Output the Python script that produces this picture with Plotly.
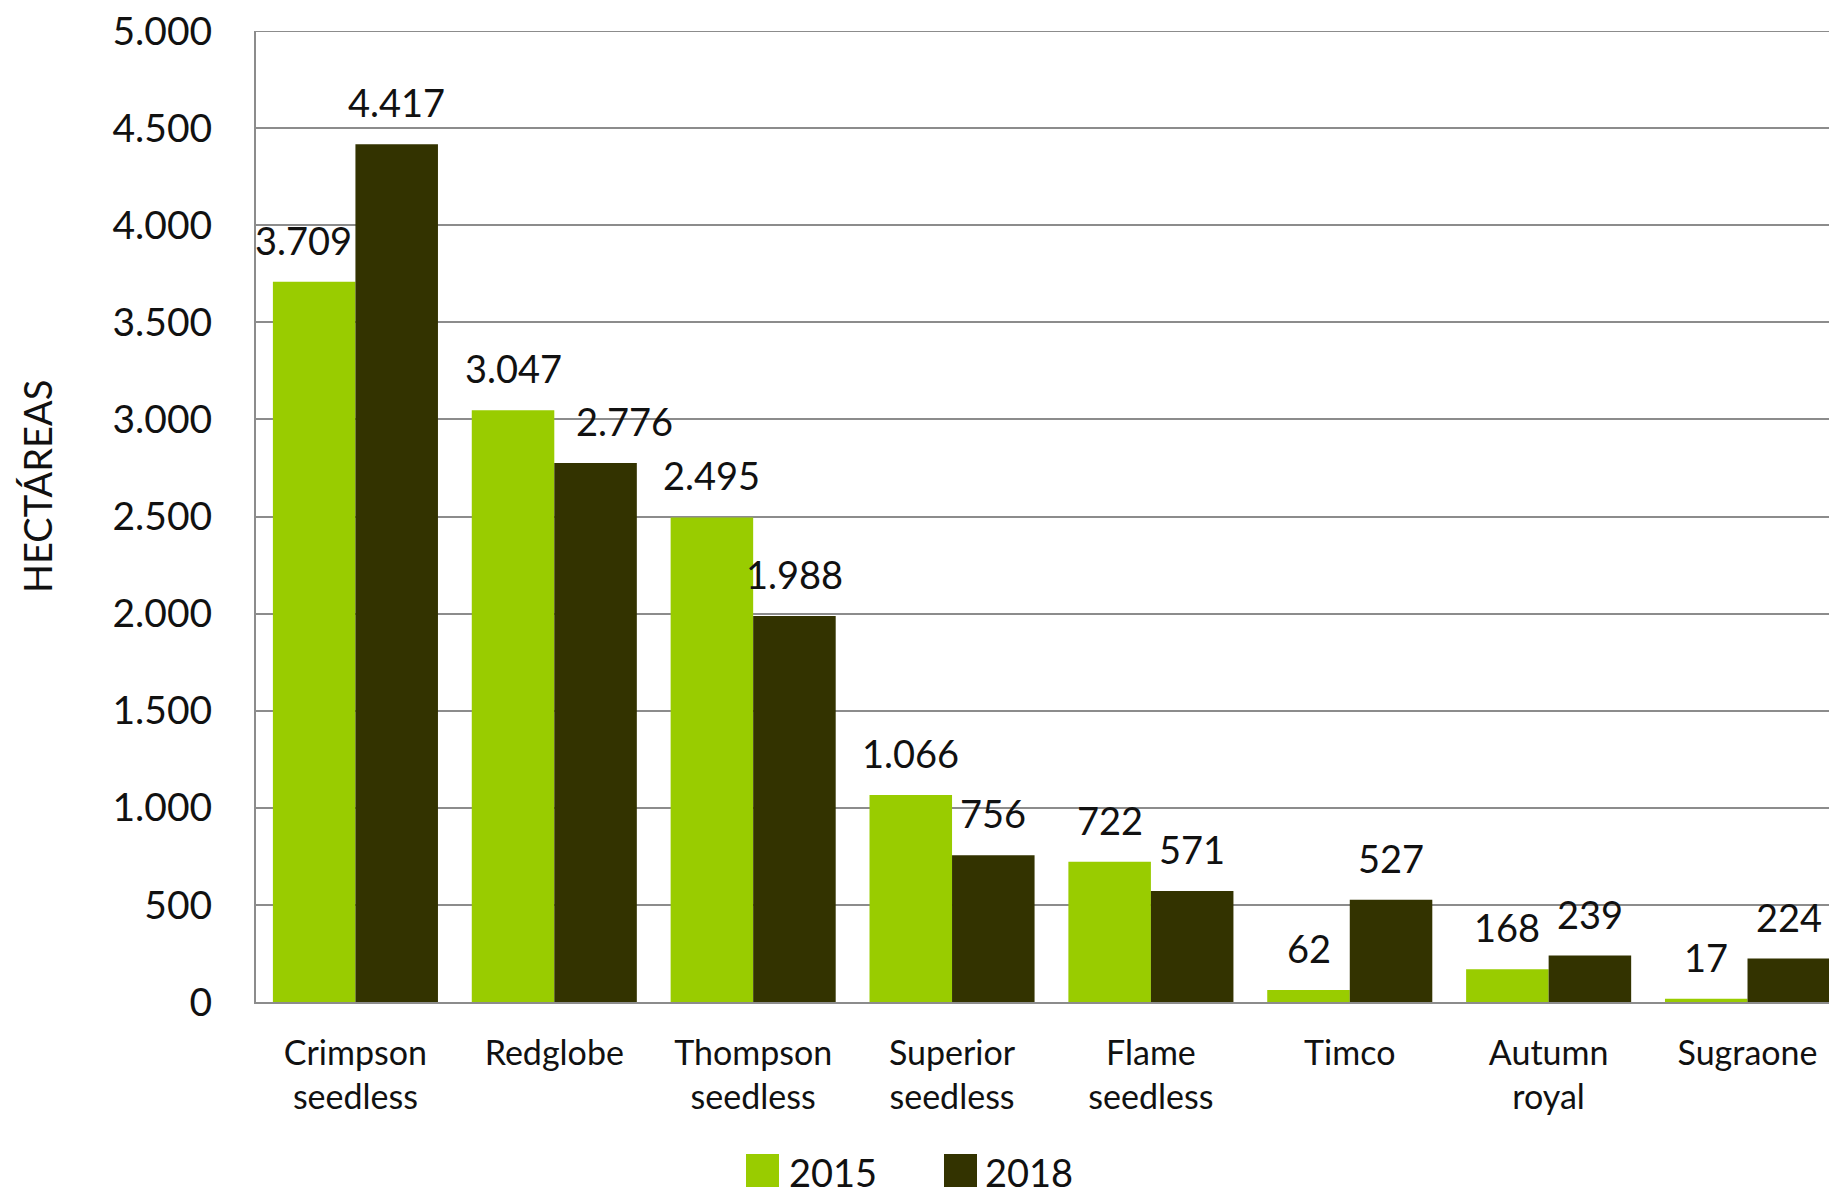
import plotly.graph_objects as go

categories = ["Crimpson<br>seedless", "Redglobe", "Thompson<br>seedless", "Superior<br>seedless",
              "Flame<br>seedless", "Timco", "Autumn<br>royal", "Sugraone"]
values_2015 = [3709, 3047, 2495, 1066, 722, 62, 168, 17]
values_2018 = [4417, 2776, 1988, 756, 571, 527, 239, 224]
series_names = ["2015", "2018"]
colors = ["#99CC00", "#333300"]
y_ticks = [0, 500, 1000, 1500, 2000, 2500, 3000, 3500, 4000, 4500, 5000]

# the page body adds an 8px offset; figure sized so it ends at the window edge
OFF = 8
W, H = 1837 - OFF, 1189 - OFF
PL, PT, PB = 256, 31, 1002          # plot area edges in page pixels
ML, MR, MT = PL - OFF, 0, PT - OFF
MB = H - (PB - OFF)
PW, PH = W - ML - MR, PB - PT
FONT = "Lato"
GRID = "#8c8c8c"
BARGAP = 0.17
half = (1 - BARGAP) / 4  # offset of each bar centre from category centre
# small horizontal nudges (px) of individual value labels, as in the original
label_nudge = {(0, 0): -11, (1, 1): 29}

x_idx = list(range(len(categories)))
fig = go.Figure()
for name, vals, col in zip(series_names, [values_2015, values_2018], colors):
    fig.add_trace(go.Bar(x=x_idx, y=vals, name=name, marker=dict(color=col, line=dict(width=0)),
                         showlegend=False))

# top gridline (plotly drops the gridline at the range end)
fig.add_shape(type="line", xref="paper", yref="y", x0=0, x1=1, y0=y_ticks[-1], y1=y_ticks[-1],
              line=dict(color=GRID, width=2), layer="below")

# data labels
for k, vals in enumerate([values_2015, values_2018]):
    sign = -1 if k == 0 else 1
    for i, v in enumerate(vals):
        fig.add_annotation(x=i + sign * half, y=v, text=f"{v:,}".replace(",", "."),
                           showarrow=False, yanchor="bottom", yshift=17,
                           xshift=label_nudge.get((i, k), 0),
                           font=dict(family=FONT, size=38, color="#111111"))


def px_to_paper(xpx, ypx):
    return (xpx - PL) / PW, (PB - ypx) / PH


# axis title
tx, ty = px_to_paper(37, 487)
fig.add_annotation(xref="paper", yref="paper", x=tx, y=ty, text="HECTÁREAS", textangle=-90,
                   showarrow=False, xanchor="center", yanchor="middle",
                   font=dict(family=FONT, size=38, color="#111111"))

# manual legend (sits at the very bottom edge, partly cut as in the original)
leg = [(746, 787), (944, 983)]
for (mx, lx), name, col in zip(leg, series_names, colors):
    x0, y0 = px_to_paper(mx, 1154)
    x1, y1 = px_to_paper(mx + 33, 1187)
    fig.add_shape(type="rect", xref="paper", yref="paper", x0=x0, x1=x1, y0=y1, y1=y0,
                  fillcolor=col, line=dict(width=0))
    txx, tyy = px_to_paper(lx, 1172)
    fig.add_annotation(xref="paper", yref="paper", x=txx, y=tyy, text=name, showarrow=False,
                       xanchor="left", yanchor="middle",
                       font=dict(family=FONT, size=38, color="#111111"))

fig.update_layout(
    width=W, height=H,
    margin=dict(l=ML, r=MR, t=MT, b=MB, pad=0, autoexpand=False),
    paper_bgcolor="white", plot_bgcolor="white",
    barmode="group", bargap=BARGAP, bargroupgap=0,
    separators=",.",
    font=dict(family=FONT, color="#111111"),
    xaxis=dict(tickmode="array", tickvals=x_idx, ticktext=categories,
               range=[-0.5, len(categories) - 0.55], showgrid=False,
               showline=True, linecolor=GRID, linewidth=2,
               ticks="", tickfont=dict(family=FONT, size=34, color="#111111"),
               ticklabelstandoff=20, fixedrange=True, automargin=False),
    yaxis=dict(range=[0, 5000], tickvals=y_ticks, tickformat=",d",
               showgrid=True, gridcolor=GRID, gridwidth=2,
               showline=True, linecolor=GRID, linewidth=2,
               zeroline=False, ticks="", ticklabelstandoff=34, automargin=False,
               ticklabeloverflow="allow",
               tickfont=dict(family=FONT, size=39, color="#111111")),
)

fig.write_html("out.html")
